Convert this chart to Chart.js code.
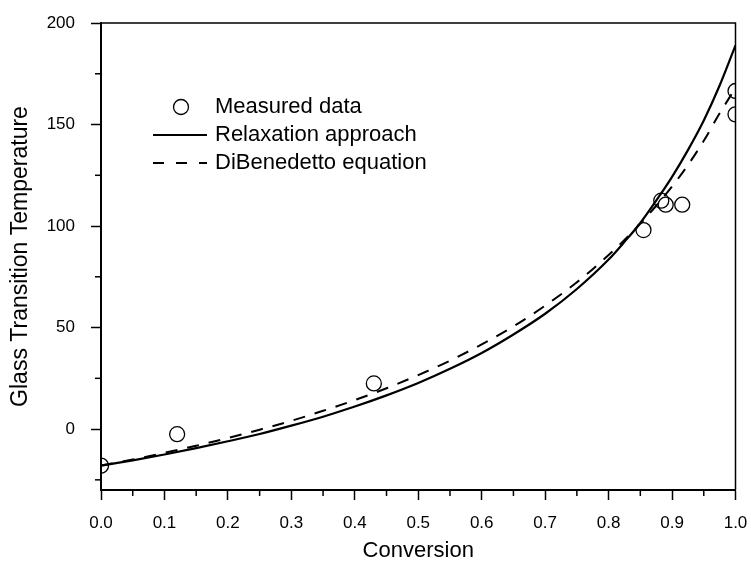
<!DOCTYPE html>
<html><head><meta charset="utf-8">
<script src="https://cdn.jsdelivr.net/npm/chart.js@4"></script>
<style>html,body{margin:0;padding:0;background:#fff}</style>
</head><body>
<canvas id="c" width="751" height="564"></canvas>
<script>
// Measured data
const measuredX = [0.0, 0.12, 0.43, 0.855, 0.883, 0.890, 0.916, 1.0, 1.0];
const measuredTg = [-18, -2.5, 22.5, 98, 112.5, 110.5, 110.5, 166.5, 155];

// Model curves
const curveX = [0, 0.05, 0.1, 0.15, 0.2, 0.25, 0.3, 0.35, 0.4, 0.45, 0.5, 0.55, 0.6, 0.65, 0.7, 0.75, 0.8, 0.825, 0.85, 0.875, 0.9, 0.925, 0.95, 0.975, 1.0];
const relaxationTg = [-18, -15.4, -12.5, -9.4, -6.0, -2.4, 1.7, 6.1, 11.1, 16.6, 22.7, 29.7, 37.5, 46.6, 56.8, 69, 83.5, 92.2, 101.5, 112.5, 124.2, 137.4, 152, 169.2, 189];
const diBenedettoTg = [-18, -15.0, -11.7, -8.2, -4.4, -0.3, 4.1, 9.0, 14.3, 20.1, 26.6, 33.7, 41.7, 50.6, 60.8, 72.3, 85.7, 93.2, 101.2, 110, 119.5, 130, 142, 155.5, 168];

// Ticks
const xTicks = [0, 0.1, 0.2, 0.3, 0.4, 0.5, 0.6, 0.7, 0.8, 0.9, 1.0];
const xMinorTicks = [0.05, 0.15, 0.25, 0.35, 0.45, 0.55, 0.65, 0.75, 0.85, 0.95];
const yTicks = [0, 50, 100, 150, 200];
const yMinorTicks = [-25, 25, 75, 125, 175];

const FONT = 'Liberation Sans, Arial, sans-serif';

const pts = (xs, ys) => xs.map((x, i) => ({x: x, y: ys[i]}));

const framePlugin = {
  id: 'frame',
  afterDraw(chart) {
    const {ctx, chartArea: a, scales: {x, y}} = chart;
    ctx.save();
    ctx.strokeStyle = '#000';
    ctx.lineWidth = 1.5;
    xMinorTicks.forEach(v => {
      const px = x.getPixelForValue(v);
      ctx.beginPath(); ctx.moveTo(px, a.bottom); ctx.lineTo(px, a.bottom + 6); ctx.stroke();
    });
    yMinorTicks.forEach(v => {
      const py = y.getPixelForValue(v);
      ctx.beginPath(); ctx.moveTo(a.left, py); ctx.lineTo(a.left - 6, py); ctx.stroke();
    });
    ctx.beginPath();
    ctx.moveTo(a.left, a.top); ctx.lineTo(a.right, a.top); ctx.lineTo(a.right, a.bottom);
    ctx.stroke();
    ctx.restore();
  }
};

const legendPlugin = {
  id: 'customLegend',
  afterDraw(chart) {
    const ctx = chart.ctx;
    const ds = chart.data.datasets;
    const x0 = 153, x1 = 207, tx = 215;
    const rows = [107, 135, 163];
    ctx.save();
    ctx.fillStyle = '#000';
    ctx.strokeStyle = '#000';
    ctx.font = '22px ' + FONT;
    ctx.textBaseline = 'middle';
    ctx.textAlign = 'left';
    ctx.lineWidth = 1.3;
    ctx.beginPath(); ctx.arc(181, rows[0], 7.5, 0, Math.PI * 2); ctx.stroke();
    ctx.fillText(ds[0].label, tx, rows[0]);
    ctx.lineWidth = 2.2;
    ctx.beginPath(); ctx.moveTo(x0, rows[1]); ctx.lineTo(x1, rows[1]); ctx.stroke();
    ctx.fillText(ds[1].label, tx, rows[1]);
    ctx.lineWidth = 2;
    ctx.setLineDash([11, 12]);
    ctx.beginPath(); ctx.moveTo(x0, rows[2]); ctx.lineTo(x1, rows[2]); ctx.stroke();
    ctx.setLineDash([]);
    ctx.fillText(ds[2].label, tx, rows[2]);
    ctx.restore();
  }
};

new Chart(document.getElementById('c'), {
  type: 'scatter',
  data: {
    datasets: [
      {
        label: 'Measured data',
        data: pts(measuredX, measuredTg),
        showLine: false,
        pointStyle: 'circle',
        pointRadius: 7.5,
        pointBorderWidth: 1.3,
        borderColor: '#000',
        backgroundColor: 'rgba(0,0,0,0)'
      },
      {
        label: 'Relaxation approach',
        data: pts(curveX, relaxationTg),
        showLine: true,
        borderColor: '#000',
        borderWidth: 2.2,
        pointRadius: 0,
        cubicInterpolationMode: 'monotone',
        fill: false
      },
      {
        label: 'DiBenedetto equation',
        data: pts(curveX, diBenedettoTg),
        showLine: true,
        borderColor: '#000',
        borderWidth: 2,
        borderDash: [12, 10],
        pointRadius: 0,
        cubicInterpolationMode: 'monotone',
        fill: false
      }
    ]
  },
  options: {
    responsive: false,
    animation: false,
    events: [],
    layout: {padding: {top: 23, right: 15.5, left: 0, bottom: 0}},
    plugins: {legend: {display: false}, tooltip: {enabled: false}},
    scales: {
      x: {
        type: 'linear', min: 0, max: 1,
        afterBuildTicks: s => { s.ticks = xTicks.map(v => ({value: v})); },
        afterFit: s => { s.height = 74; s.paddingLeft = 0; s.paddingRight = 0; },
        ticks: {callback: v => Number(v).toFixed(1), color: '#000', font: {family: FONT, size: 17}, padding: 13, maxRotation: 0, autoSkip: false},
        grid: {drawOnChartArea: false, drawTicks: true, tickLength: 10, tickColor: '#000', tickWidth: 1.5},
        border: {display: true, color: '#000', width: 2},
        title: {display: true, text: 'Conversion', color: '#000', font: {family: FONT, size: 22}, padding: {top: 0, bottom: 0}}
      },
      y: {
        type: 'linear', min: -30, max: 200,
        afterBuildTicks: s => { s.ticks = yTicks.map(v => ({value: v})); },
        afterFit: s => { s.width = 101; s.paddingTop = 0; s.paddingBottom = 0; },
        ticks: {callback: v => String(v), color: '#000', font: {family: FONT, size: 17}, padding: 16, autoSkip: false},
        grid: {drawOnChartArea: false, drawTicks: true, tickLength: 10, tickColor: '#000', tickWidth: 1.5},
        border: {display: true, color: '#000', width: 2},
        title: {display: true, text: 'Glass Transition Temperature', color: '#000', font: {family: FONT, size: 23}, padding: {top: 7, bottom: 0}}
      }
    }
  },
  plugins: [framePlugin, legendPlugin]
});
</script>
</body></html>
